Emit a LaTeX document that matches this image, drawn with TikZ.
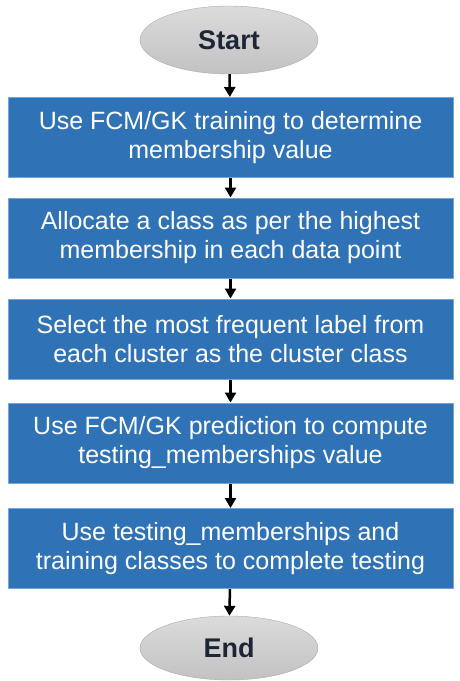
\documentclass[tikz,border=0pt]{standalone}
\usepackage{fontspec}
\setmainfont{Liberation Sans}
\usepackage{tikz}
\usetikzlibrary{shapes.geometric,arrows.meta}
\definecolor{stepblue}{RGB}{47,114,182}
\definecolor{stepedge}{RGB}{120,165,215}
\definecolor{termtext}{RGB}{30,38,54}

\begin{document}
\begin{tikzpicture}[x=1pt,y=1pt]
\tikzstyle{terminal}=[ellipse, draw=gray!65, top color=gray!28, bottom color=gray!48, minimum width=178, minimum height=68, inner sep=0pt, text=termtext, font=\fontsize{27}{30}\selectfont\bfseries]
\tikzstyle{process}=[rectangle, draw=stepedge, line width=1, fill=stepblue, minimum width=445, minimum height=80, inner sep=0pt, text=white, align=center, font=\fontsize{25}{29}\selectfont]
\tikzstyle{flow}=[-{Triangle[length=10,width=11]}, line width=2.5, black]
\useasboundingbox (0,0) rectangle (459,-681);
% terminals
\node [terminal] (start) at (229,-40) {Start};
\node [terminal, minimum height=64] (end) at (229,-648) {End};
% steps
\node [process] (train) at (230.5,-137.5) {Use FCM/GK training to determine\\membership value};
\node [process] (alloc) at (230.5,-238) {Allocate a class as per the highest\\membership in each data point};
\node [process] (select) at (230.5,-339) {Select the most frequent label from\\each cluster as the cluster class};
\node [process] (predict) at (230.5,-443) {Use FCM/GK prediction to compute\\testing\_memberships value};
\node [process] (test) at (230.5,-548.5) {Use testing\_memberships and\\training classes to complete testing};
% arrows
\draw [flow] (start) -- (train);
\draw [flow] (train) -- (alloc);
\draw [flow] (alloc) -- (select);
\draw [flow] (select) -- (predict);
\draw [flow] (predict) -- (test);
\draw [flow] (test) -- (end);
\end{tikzpicture}
\end{document}
